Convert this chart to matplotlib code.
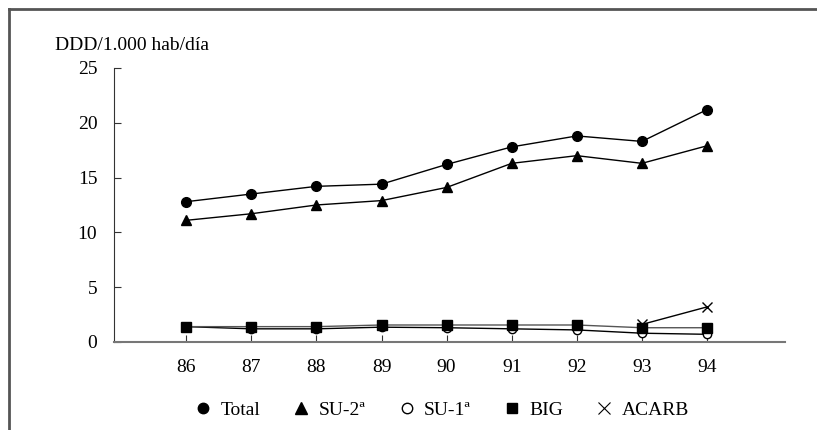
import matplotlib.pyplot as plt
from matplotlib.lines import Line2D

plt.rcParams['font.family'] = ['Liberation Serif', 'DejaVu Serif']

years = [86, 87, 88, 89, 90, 91, 92, 93, 94]
total = [12.8, 13.5, 14.2, 14.4, 16.2, 17.8, 18.8, 18.3, 21.2]
su2 = [11.1, 11.7, 12.5, 12.9, 14.1, 16.3, 17.0, 16.3, 17.9]
su1 = [1.4, 1.2, 1.2, 1.35, 1.3, 1.2, 1.1, 0.8, 0.7]
big = [1.4, 1.4, 1.4, 1.55, 1.55, 1.55, 1.55, 1.3, 1.3]
acarb_years = [93, 94]
acarb = [1.6, 3.2]

fig = plt.figure(figsize=(8.17, 4.30), dpi=100)
ax = fig.add_axes([0.1395, 0.2047, 0.8215, 0.6372])

ax.plot(years, su1, color='black', lw=1, marker='o', ms=6, mfc='white', mec='black', label='SU-1ª')
ax.plot(years, big, color='#555555', lw=1, marker='s', ms=6.5, mfc='black', mec='black', label='BIG')
ax.plot(acarb_years, acarb, color='black', lw=1, marker='x', ms=7, mew=1, label='ACARB')
ax.plot(years, su2, color='black', lw=1, marker='^', ms=7, mfc='black', mec='black', label='SU-2ª')
ax.plot(years, total, color='black', lw=1, marker='o', ms=7, mfc='black', mec='black', label='Total')

ax.set_xlim(84.89, 95.2)
ax.set_ylim(0, 25)
ax.set_xticks(years)
ax.set_yticks([0, 5, 10, 15, 20, 25])
ax.tick_params(direction='in', length=5, labelsize=14, color='#333333')
ax.tick_params(axis='x', pad=12)
ax.tick_params(axis='y', pad=12)
for s in ['top', 'right']:
    ax.spines[s].set_visible(False)
ax.spines['bottom'].set_color('#777777')
ax.spines['bottom'].set_linewidth(1.5)
ax.spines['left'].set_color('#333333')

fig.text(0.067, 0.895, 'DDD/1.000 hab/día', fontsize=14, ha='left', va='center')

handles = [
    Line2D([], [], ls='none', marker='o', ms=7.5, mfc='black', mec='black'),
    Line2D([], [], ls='none', marker='^', ms=8, mfc='black', mec='black'),
    Line2D([], [], ls='none', marker='o', ms=7.5, mfc='white', mec='black'),
    Line2D([], [], ls='none', marker='s', ms=7.5, mfc='black', mec='black'),
    Line2D([], [], ls='none', marker='x', ms=9, color='black', mew=0.8),
]
labels = ['Total', 'SU-2ª', 'SU-1ª', 'BIG', 'ACARB']
fig.legend(handles, labels, loc='center', bbox_to_anchor=(0.54, 0.046), ncol=5,
           frameon=False, fontsize=14, handlelength=1, handletextpad=0.4, columnspacing=1.6)

fig.add_artist(Line2D([0.011, 0.011], [0, 0.979], color='#555555', lw=2))
fig.add_artist(Line2D([0.011, 1.0], [0.979, 0.979], color='#555555', lw=2))

fig.savefig('out.png', dpi=100)
